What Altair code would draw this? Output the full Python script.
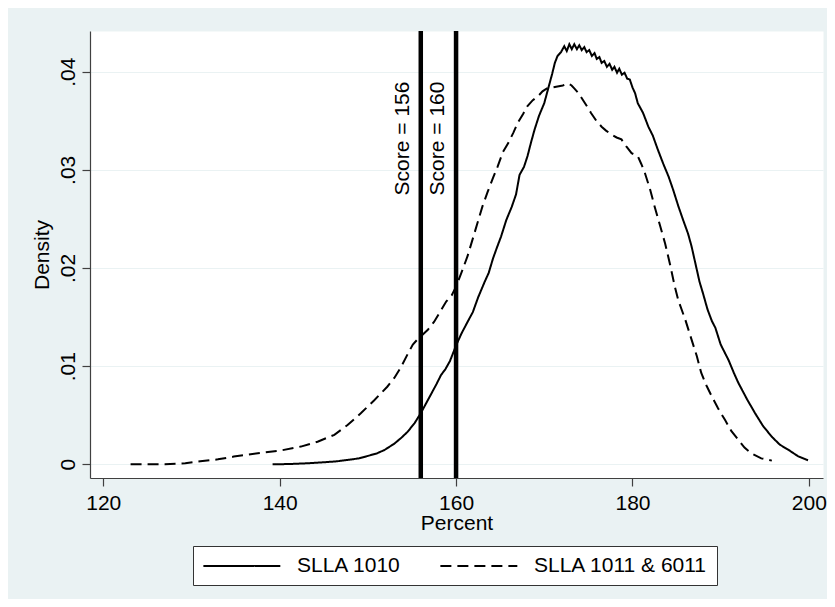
import altair as alt
import pandas as pd

# SLLA 1010 (solid) density estimate
solid_x = [139.2, 141.0, 143.1, 145.0, 146.5, 147.7, 149.0, 150.0, 151.0, 151.9,
           153.0, 153.8, 154.5, 155.3, 156.0, 156.6, 157.2, 157.8, 158.3, 158.8,
           159.3, 160.0, 160.6, 161.3, 161.9, 162.5, 163.2, 163.7, 164.2, 164.6,
           165.1, 165.7, 166.3, 166.8, 167.2, 167.7, 168.1, 168.5, 168.9, 169.4,
           170.0, 170.3, 170.6, 170.9, 171.2, 171.5, 171.9, 172.27, 172.55, 172.84,
           173.12, 173.4, 173.7, 173.97, 174.25, 174.54, 174.8, 175.1, 175.4, 175.7,
           175.95, 176.25, 176.5, 176.8, 177.1, 177.4, 177.7, 177.95, 178.25, 178.5,
           178.8, 179.1, 179.4, 179.7, 180.0, 180.3, 180.6, 181.2, 181.8, 182.3,
           182.9, 183.5, 184.1, 184.6, 185.2, 185.7, 186.3, 186.7, 187.1, 187.6,
           188.0, 188.5, 189.0, 189.4, 190.0, 190.9, 191.5, 192.0, 193.0, 193.9,
           194.8, 195.8, 196.7, 197.7, 198.8, 199.9]
solid_y = [0.0, 0.00002, 0.0001, 0.0002, 0.0003, 0.00044, 0.0006, 0.00085, 0.0011, 0.00146,
           0.0021, 0.0027, 0.0033, 0.0042, 0.0052, 0.0062, 0.0072, 0.0082, 0.0091, 0.0097,
           0.0105, 0.0121, 0.0133, 0.0145, 0.0155, 0.0170, 0.0185, 0.0195, 0.0210, 0.0220,
           0.0232, 0.0249, 0.0262, 0.0275, 0.0295, 0.0303, 0.0314, 0.0328, 0.0341, 0.0355,
           0.0368, 0.0378, 0.0388, 0.0398, 0.0409, 0.0416, 0.0420, 0.0426, 0.0421, 0.0428,
           0.0423, 0.0428, 0.0423, 0.0427, 0.0422, 0.0425, 0.0420, 0.0422, 0.0416, 0.0419,
           0.0413, 0.0415, 0.0409, 0.0411, 0.0405, 0.0408, 0.0402, 0.0405, 0.0399, 0.0403,
           0.0397, 0.0399, 0.0393, 0.0392, 0.0384, 0.0378, 0.0368, 0.0358, 0.0344, 0.0335,
           0.0320, 0.0306, 0.0293, 0.0280, 0.0263, 0.0250, 0.0235, 0.0222, 0.0206, 0.0186,
           0.0174, 0.0158, 0.0146, 0.0139, 0.0122, 0.0106, 0.0093, 0.0083, 0.0066, 0.0052,
           0.0039, 0.0028, 0.0020, 0.00146, 0.0008, 0.0004]

# SLLA 1011 & 6011 (dashed)
dashed_x = [123.1, 127.0, 129.3, 131.0, 133.0, 134.8, 136.5, 138.3, 140.1, 142.4,
            144.3, 146.2, 147.7, 149.2, 150.7, 152.2, 153.0, 153.75, 154.5, 155.1,
            155.6, 156.2, 156.8, 157.5, 158.3, 158.9, 159.5, 160.0, 160.6, 161.3,
            162.0, 162.5, 163.0, 163.6, 164.2, 164.7, 165.3, 165.9, 166.5, 167.0,
            167.6, 168.1, 168.7, 169.3, 169.8, 170.3, 170.9, 171.5, 172.1, 172.7,
            173.1, 173.4, 173.9, 174.4, 174.9, 175.3, 175.9, 176.5, 177.0, 177.6,
            178.2, 178.75, 179.3, 179.9, 180.6, 181.0, 181.4, 182.0, 182.5, 183.1,
            183.7, 184.3, 184.8, 185.2, 186.0, 186.7, 187.3, 187.8, 188.4, 189.0,
            189.7, 190.5, 191.2, 192.0, 192.7, 193.5, 194.6, 195.8]
dashed_y = [0.0, 0.0, 0.0001, 0.0003, 0.0005, 0.00078, 0.0010, 0.0012, 0.0014, 0.0018,
            0.0023, 0.0030, 0.0040, 0.0052, 0.0065, 0.0079, 0.0088, 0.0099, 0.0112, 0.0122,
            0.0127, 0.0132, 0.0137, 0.0145, 0.0157, 0.0166, 0.0172, 0.0181, 0.0195, 0.0212,
            0.0233, 0.0248, 0.0263, 0.0278, 0.0292, 0.0303, 0.0318, 0.0327, 0.0338, 0.0348,
            0.0357, 0.0365, 0.0371, 0.0375, 0.0380, 0.0383, 0.0384, 0.0385, 0.0386, 0.0388,
            0.0386, 0.0383, 0.0378, 0.0371, 0.0364, 0.0358, 0.0350, 0.0344, 0.0340, 0.0336,
            0.0333, 0.0331, 0.0324, 0.0317, 0.0314, 0.0306, 0.0297, 0.0280, 0.0263, 0.0244,
            0.0225, 0.0202, 0.0181, 0.0167, 0.0147, 0.0127, 0.0110, 0.0093, 0.0080, 0.0069,
            0.0057, 0.0045, 0.0034, 0.0025, 0.0017, 0.0011, 0.0006, 0.00037]

series_names = ["SLLA 1010", "SLLA 1011 & 6011"]
score_lines = [156, 160]
score_labels = ["Score = 156", "Score = 160"]
score_label_y = [0.039, 0.039]
x_ticks = [120, 140, 160, 180, 200]
y_ticks = [0, 0.01, 0.02, 0.03, 0.04]

FONT = "Liberation Sans"
FS = 21

df = pd.concat([
    pd.DataFrame({"x": solid_x, "y": solid_y, "series": series_names[0]}),
    pd.DataFrame({"x": dashed_x, "y": dashed_y, "series": series_names[1]}),
], ignore_index=True)
rules_df = pd.DataFrame({"x": score_lines, "label": score_labels, "y": score_label_y})

xscale = alt.Scale(domain=[118.5, 201.6], nice=False, zero=False)
yscale = alt.Scale(domain=[-0.0014, 0.04415], nice=False, zero=False)

lines = alt.Chart(df).mark_line(color="black", strokeWidth=2).encode(
    x=alt.X("x:Q", scale=xscale, axis=alt.Axis(
        title="Percent", values=x_ticks, grid=False, tickSize=8, labelPadding=6,
        titleX=366.5, titleY=51, titleBaseline="alphabetic", titleAnchor="middle",
        titleAlign="center")),
    y=alt.Y("y:Q", scale=yscale, axis=alt.Axis(
        title="Density", values=y_ticks, grid=True, tickSize=8, labelPadding=8,
        labelAngle=270, labelAlign="center", labelBaseline="alphabetic",
        labelExpr="datum.value == 0 ? '0' : substring(format(datum.value, '.2f'), 1)",
        titleAngle=270, titleX=-42, titleY=223.5, titleBaseline="alphabetic",
        titleAlign="center")),
    strokeDash=alt.StrokeDash("series:N",
        scale=alt.Scale(domain=series_names, range=[[1, 0], [11, 6]]),
        legend=alt.Legend(title=None, orient="none", legendX=103, legendY=515,
                          direction="horizontal", fillColor="white",
                          strokeColor="#333333", padding=9,
                          symbolType="M-1,0H7", symbolSize=370,
                          symbolStrokeWidth=2, symbolStrokeColor="black",
                          labelFont=FONT, labelFontSize=FS, labelColor="black",
                          labelOffset=73, columnPadding=35, labelLimit=400)),
    order=alt.Order("x:Q"),
)

rules = alt.Chart(rules_df).mark_rule(color="black", strokeWidth=4.5).encode(
    x=alt.X("x:Q", scale=xscale),
)

texts = alt.Chart(rules_df).mark_text(
    angle=270, align="right", baseline="alphabetic", dy=-12,
    font=FONT, fontSize=FS, color="black",
).encode(
    x=alt.X("x:Q", scale=xscale),
    y=alt.Y("y:Q", scale=yscale),
    text="label:N",
)

chart = alt.layer(lines, rules, texts).properties(
    width=733, height=447,
    padding={"left": 82, "top": 23, "right": 4, "bottom": 121},
    autosize=alt.AutoSizeParams(type="none"),
).configure(
    background="#EAF2F3", font=FONT,
).configure_view(
    fill="white", stroke="transparent",
).configure_axis(
    labelFont=FONT, labelFontSize=FS, labelColor="black",
    titleFont=FONT, titleFontSize=FS, titleColor="black", titleFontWeight="normal",
    domainColor="#404040", tickColor="#404040", domainWidth=1.2, tickWidth=1.2,
    gridColor="#EAF2F3", gridWidth=1.2,
)

chart.save("out.html", embed_options={"renderer": "svg", "actions": False})
